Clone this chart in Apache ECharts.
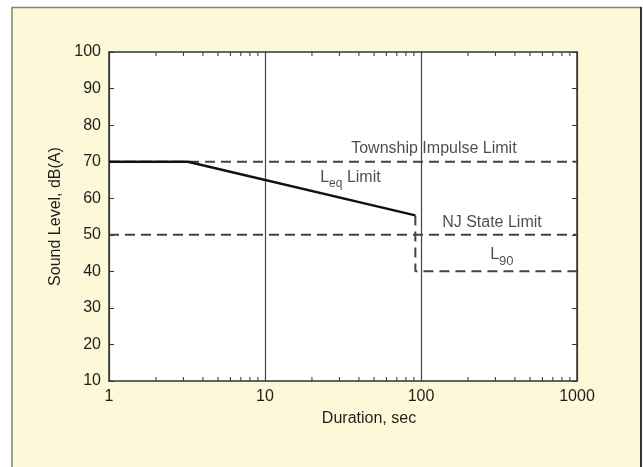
<!DOCTYPE html>
<html>
<head>
<meta charset="utf-8">
<script src="https://cdn.jsdelivr.net/npm/echarts@6/dist/echarts.min.js"></script>
<style>
html,body{margin:0;padding:0;background:#fff;}
#chart{width:643px;height:467px;}
</style>
</head>
<body>
<div id="chart"></div>
<script>
// ---- data ----
const xTickLabels = [1, 10, 100, 1000];
const minorTickValues = [2,3,4,5,6,7,8,9,20,30,40,50,60,70,80,90,200,300,400,500,600,700,800,900];
const yTickLabels = [10,20,30,40,50,60,70,80,90,100];

const leqX = [1, 3.2, 92];
const leqY = [70, 70, 55.3];
const townshipX = [1, 1000];
const townshipY = [70, 70];
const njStateX = [1, 1000];
const njStateY = [50, 50];
const l90X = [92, 92, 1000];
const l90Y = [55.3, 40, 40];

const FONT = '"Liberation Sans", Arial, Helvetica, sans-serif';
const TXT = '#1e1e1e';

function pairs(xs, ys){ return xs.map((x,i)=>[x, ys[i]]); }

const chart = echarts.init(document.getElementById('chart'), null, {renderer:'canvas'});

const dashStyle = {color:'#444', width:2, type:[10,6]};

const option = {
  animation:false,
  backgroundColor:'#fff',
  textStyle:{fontFamily:FONT},
  graphic:[
    {type:'rect', z:-10, shape:{x:12, y:7.5, width:629, height:470},
     style:{fill:'#fdf8d7', stroke:'#808080', lineWidth:1.5}},
    {type:'line', z:-9, shape:{x1:641, y1:7, x2:641, y2:467},
     style:{stroke:'#333', lineWidth:2}}
  ],
  grid:{left:109, right:66, top:52, bottom:86, show:true, backgroundColor:'#fff', borderWidth:0},
  xAxis:[
    {type:'log', logBase:10, min:xTickLabels[0], max:xTickLabels[xTickLabels.length-1],
     position:'bottom',
     name:'Duration, sec', nameLocation:'middle', nameGap:30,
     nameTextStyle:{fontSize:16, color:TXT, fontFamily:FONT, padding:[0,0,0,52]},
     axisLine:{show:true, lineStyle:{color:'#333', width:1.5}},
     axisTick:{show:false},
     axisLabel:{fontSize:16, color:TXT, fontFamily:FONT, margin:8,
       formatter:function(v){ return String(Math.round(v)); }},
     splitLine:{show:true, lineStyle:{color:'#444', width:1.2}}
    },
    {type:'log', logBase:10, min:xTickLabels[0], max:xTickLabels[xTickLabels.length-1],
     position:'top',
     axisLine:{show:true, lineStyle:{color:'#333', width:1.5}},
     axisTick:{show:false}, axisLabel:{show:false}, splitLine:{show:false}
    }
  ],
  yAxis:[
    {type:'value', min:yTickLabels[0], max:yTickLabels[yTickLabels.length-1], interval:10,
     position:'left',
     name:'Sound Level, dB(A)', nameLocation:'middle', nameGap:43,
     nameTextStyle:{fontSize:16, color:TXT, fontFamily:FONT, padding:[0,0,0,0]},
     axisLine:{show:true, lineStyle:{color:'#333', width:1.5}},
     axisTick:{show:true, inside:true, length:5, lineStyle:{color:'#333', width:1}},
     axisLabel:{fontSize:16, color:TXT, fontFamily:FONT, margin:8},
     splitLine:{show:false}
    },
    {type:'value', min:yTickLabels[0], max:yTickLabels[yTickLabels.length-1], interval:10,
     position:'right',
     axisLine:{show:true, lineStyle:{color:'#333', width:1.5}},
     axisTick:{show:true, inside:true, length:5, lineStyle:{color:'#333', width:1}},
     axisLabel:{show:false}, splitLine:{show:false}
    }
  ],
  series:[
    {type:'custom', xAxisIndex:0, yAxisIndex:0, silent:true,
     data: minorTickValues.map(v=>[v]),
     renderItem:function(params, api){
       const b = api.coord([api.value(0), yTickLabels[0]]);
       const t = api.coord([api.value(0), yTickLabels[yTickLabels.length-1]]);
       const st = {stroke:'#333', lineWidth:1};
       return {type:'group', children:[
         {type:'line', shape:{x1:b[0], y1:b[1], x2:b[0], y2:b[1]-4}, style:st},
         {type:'line', shape:{x1:t[0], y1:t[1], x2:t[0], y2:t[1]+4}, style:st}
       ]};
     }
    },
    {name:'Township Impulse Limit', type:'line', data:pairs(townshipX, townshipY),
     symbol:'none', lineStyle:dashStyle, silent:true},
    {name:'NJ State Limit', type:'line', data:pairs(njStateX, njStateY),
     symbol:'none', lineStyle:dashStyle, silent:true},
    {name:'L90', type:'line', data:pairs(l90X, l90Y),
     symbol:'none', lineStyle:dashStyle, silent:true},
    {name:'Leq Limit', type:'line', data:pairs(leqX, leqY),
     symbol:'none', lineStyle:{color:'#111', width:2.5}, silent:true, z:5},
    {type:'scatter', symbolSize:0, silent:true, z:6,
     label:{show:true, position:'inside', color:TXT, fontFamily:FONT, fontSize:16},
     data:[
       {value:[121, 73.7], label:{formatter:'Township Impulse Limit'}},
       {value:[285, 53.3], label:{formatter:'NJ State Limit'}},
       {value:[35.3, 65.4], label:{formatter:'{m|L}{s|eq}{m| Limit}',
         rich:{m:{fontSize:16, color:TXT, fontFamily:FONT, verticalAlign:'top', lineHeight:18},
               s:{fontSize:12, color:TXT, fontFamily:FONT, verticalAlign:'top', lineHeight:14, padding:[8,0,0,0]}}}},
       {value:[330, 44.2], label:{formatter:'{m|L}{s|90}',
         rich:{m:{fontSize:16, color:TXT, fontFamily:FONT, verticalAlign:'top', lineHeight:18},
               s:{fontSize:13, color:TXT, fontFamily:FONT, verticalAlign:'top', lineHeight:14, padding:[8,0,0,0]}}}}
     ]
    }
  ]
};
chart.setOption(option);
</script>
</body>
</html>
